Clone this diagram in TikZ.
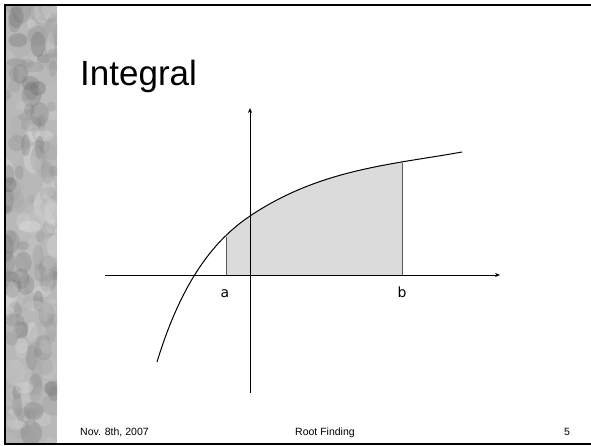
\documentclass[tikz,border=0pt]{standalone}
\usepackage{fontspec}
\setmainfont{Liberation Sans}
\newfontfamily\labelfont{DejaVu Sans}
\usetikzlibrary{arrows.meta}

\begin{document}
\begin{tikzpicture}[
  x=1pt, y=-1pt,
  axis/.style={-{Stealth[length=5pt,width=4pt]}, line width=0.7pt},
  curve/.style={line width=1pt},
  bound/.style={draw=black!65, line width=0.8pt},
  area/.style={fill=black!14},
  lbl/.style={font=\labelfont\fontsize{14}{16}\selectfont, anchor=base},
  foot/.style={font=\fontsize{10.5}{12}\selectfont, anchor=base},
]
  \useasboundingbox (0,0) rectangle (591,445);

  % textured side strip
  \begin{scope}
    \clip (5,5) rectangle (57,443);
    \fill[black!28] (5,5) rectangle (57,443);
    \pgfmathsetseed{23}
    \foreach \i in {1,...,220}{
      \pgfmathsetmacro\px{5+52*rnd}
      \pgfmathsetmacro\py{5+438*rnd}
      \pgfmathsetmacro\pr{4+10*rnd}
      \pgfmathsetmacro\pq{4+7*rnd}
      \pgfmathsetmacro\pg{int(8+55*rnd)}
      \fill[black!\pg, opacity=0.3] (\px,\py)
        ellipse[x radius=\pq pt, y radius=\pr pt];
    }
  \end{scope}

  % frame
  \draw[line width=2pt] (591,5) -- (5,5) -- (5,443.5) -- (591,443.5);

  % title
  \node[anchor=base west, font=\fontsize{35}{40}\selectfont, inner sep=0pt]
    (title) at (80,85) {Integral};

  % curve points
  \coordinate (c0) at (157,362);
  \coordinate (c1) at (250,216);
  \coordinate (c2) at (462,152);

  % shaded area between a and b
  \begin{scope}
    \clip (226,275) rectangle (402,100);
    \fill[area] (c0) .. controls (182,280) and (215,239.5) .. (c1)
      .. controls (320,169) and (392,164.6) .. (c2)
      -- (462,275) -- (157,275) -- cycle;
  \end{scope}
  \coordinate (a0) at (226,275);
  \coordinate (a1) at (226,237);
  \coordinate (b0) at (402,275);
  \coordinate (b1) at (402,163);
  \draw[bound] (a0) -- (a1);
  \draw[bound] (b0) -- (b1);

  % axes
  \coordinate (xs) at (105,275);
  \coordinate (xe) at (500,275);
  \coordinate (ys) at (250,393);
  \coordinate (ye) at (250,108);
  \draw[axis] (xs) -- (xe);
  \draw[axis] (ys) -- (ye);

  % curve
  \draw[curve] (c0) .. controls (182,280) and (215,239.5) .. (c1)
    .. controls (320,169) and (392,164.6) .. (c2);

  \node[lbl] (la) at (225,297) {a};
  \node[lbl] (lb) at (402,297) {b};

  % footer
  \node[foot, anchor=base west, inner sep=0pt] (date) at (80,435) {Nov. 8th, 2007};
  \node[foot] (topic) at (325,435) {Root Finding};
  \node[foot] (page) at (567,435) {5};
\end{tikzpicture}
\end{document}
